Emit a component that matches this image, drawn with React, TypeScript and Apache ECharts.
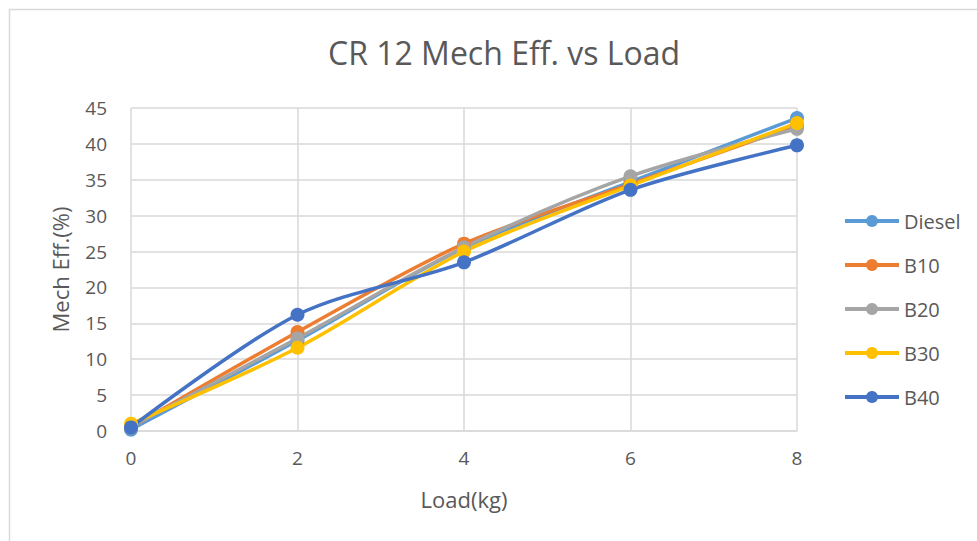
import React, { useEffect, useRef } from "react";
import * as echarts from "echarts";

const loads = [0, 2, 4, 6, 8];
const seriesNames = ["Diesel", "B10", "B20", "B30", "B40"];
const diesel = [0.2, 12.6, 25.5, 34.7, 43.6];
const b10 = [0.5, 13.8, 26.1, 34.4, 42.6];
const b20 = [0.6, 12.9, 25.6, 35.5, 42.1];
const b30 = [1.0, 11.6, 25.0, 34.2, 42.9];
const b40 = [0.5, 16.2, 23.5, 33.6, 39.8];
const colors = ["#5b9bd5", "#ed7d31", "#a5a5a5", "#ffc000", "#4472c4"];
const yTicks = [0, 45, 5];

const FONT = "Open Sans";

export default function App() {
  const ref = useRef<HTMLDivElement>(null);
  useEffect(() => {
    document.body.style.margin = "0";
    const chart = echarts.init(ref.current!, null, { renderer: "svg" });
    const all = [diesel, b10, b20, b30, b40];
    chart.setOption({
      animation: false,
      backgroundColor: "#ffffff",
      title: {
        text: "CR 12 Mech Eff. vs Load",
        left: 499,
        textAlign: "center",
        top: 31,
        textStyle: { fontFamily: FONT, fontSize: 32, fontWeight: "normal", color: "#595959" },
      },
      legend: {
        orient: "vertical",
        left: 838,
        top: 206,
        itemWidth: 54,
        itemHeight: 15,
        itemGap: 24,
        data: seriesNames,
        lineStyle: { width: 4 },
        textStyle: { fontFamily: FONT, fontSize: 20, color: "#595959" },
      },
      grid: { left: 131, right: 180, top: 108, bottom: 110, containLabel: false },
      xAxis: {
        type: "value",
        min: 0,
        max: 8,
        interval: 2,
        name: "Load(kg)",
        nameLocation: "middle",
        nameGap: 57,
        nameTextStyle: { fontFamily: FONT, fontSize: 22, color: "#595959" },
        axisLine: { show: true, lineStyle: { color: "#d9d9d9", width: 1.5 } },
        axisTick: { show: false },
        axisLabel: { fontFamily: FONT, fontSize: 19, color: "#595959", margin: 17 },
        splitLine: { show: true, lineStyle: { color: "#d9d9d9", width: 1.5 } },
      },
      yAxis: {
        type: "value",
        min: yTicks[0],
        max: yTicks[1],
        interval: yTicks[2],
        name: "Mech Eff.(%)",
        nameLocation: "middle",
        nameGap: 60,
        nameRotate: 90,
        nameTextStyle: { fontFamily: FONT, fontSize: 22, color: "#595959" },
        axisLine: { show: false },
        axisTick: { show: false },
        axisLabel: { fontFamily: FONT, fontSize: 19, color: "#595959", margin: 24 },
        splitLine: { show: true, lineStyle: { color: "#d9d9d9", width: 1.5 } },
      },
      graphic: [
        {
          type: "rect",
          shape: { x: 9.5, y: 9.5, width: 1200, height: 800 },
          style: { fill: "none", stroke: "#d9d9d9", lineWidth: 1.5 },
          silent: true,
        },
      ],
      series: seriesNames.map((name, i) => ({
        name,
        type: "line",
        smooth: 0.3,
        symbol: "circle",
        symbolSize: 14,
        color: colors[i],
        lineStyle: { width: 3.5, color: colors[i] },
        itemStyle: { color: colors[i] },
        data: loads.map((x, j) => [x, all[i][j]]),
      })),
    });
    return () => chart.dispose();
  }, []);
  return <div ref={ref} style={{ width: 977, height: 541 }} />;
}
